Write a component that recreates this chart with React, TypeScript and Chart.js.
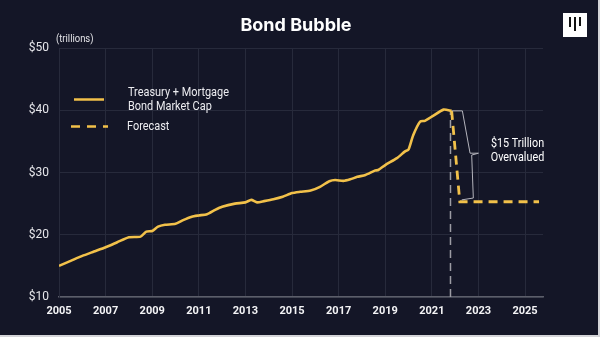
import React, { useEffect, useRef } from "react";
import { Chart, registerables } from "chart.js";

Chart.register(...registerables);

// ---- data ----
const histYears = [
  2005.0, 2005.5, 2006.0, 2006.5, 2007.0, 2007.5, 2008.0, 2008.5, 2008.75, 2009.0,
  2009.25, 2009.55, 2010.0, 2010.3, 2010.7, 2011.0, 2011.35, 2011.7, 2012.0, 2012.55,
  2013.0, 2013.25, 2013.5, 2013.8, 2014.2, 2014.6, 2015.0, 2015.35, 2015.8, 2016.2,
  2016.6, 2016.85, 2017.2, 2017.5, 2017.8, 2018.15, 2018.55, 2018.7, 2019.0, 2019.5,
  2019.85, 2020.0, 2020.2, 2020.5, 2020.7, 2021.05, 2021.5, 2021.85,
];
const histValues = [
  15.0, 15.8, 16.6, 17.3, 18.0, 18.8, 19.6, 19.7, 20.5, 20.6,
  21.3, 21.6, 21.75, 22.3, 22.9, 23.1, 23.3, 24.0, 24.5, 25.0,
  25.2, 25.6, 25.2, 25.4, 25.7, 26.1, 26.7, 26.9, 27.1, 27.7,
  28.6, 28.8, 28.65, 28.9, 29.3, 29.6, 30.3, 30.4, 31.2, 32.3,
  33.4, 33.7, 36.0, 38.2, 38.3, 39.1, 40.1, 39.9,
];
const forecastYears = [2021.85, 2022.2, 2025.6];
const forecastValues = [39.9, 25.3, 25.3];
const markerYears = [2021.8, 2021.8];
const markerValues = [10, 40];
const braceYears = [2021.87, 2022.31, 2022.64, 2023.0, 2022.71, 2022.78, 2022.28];
const braceValues = [39.9, 39.9, 33.1, 33.1, 32.8, 25.9, 25.6];
const xTickYears = [2005, 2007, 2009, 2011, 2013, 2015, 2017, 2019, 2021, 2023, 2025];
const yTickValues = [10, 20, 30, 40, 50];
const xMin = 2005;
const xMax = 2025.77;
const titleText = "Bond Bubble";
const unitText = "(trillions)";
const seriesLabel = ["Treasury + Mortgage", "Bond Market Cap"];
const forecastLabel = "Forecast";
const annotationText = ["$15 Trillion", "Overvalued"];

const YELLOW = "#F2C14A";
const BG = "#141627";
const GRID = "#272a3b";

const toPts = (xs: number[], ys: number[]) => xs.map((x, i) => ({ x, y: ys[i] }));

function narrowText(
  ctx: CanvasRenderingContext2D,
  text: string,
  x: number,
  y: number,
  font: string,
  sx: number,
  align: CanvasTextAlign
) {
  ctx.save();
  ctx.font = font;
  ctx.textAlign = align;
  ctx.textBaseline = "middle";
  ctx.translate(x, y);
  ctx.scale(sx, 1);
  ctx.fillText(text, 0, 0);
  ctx.restore();
}

const overlayPlugin = {
  id: "overlay",
  afterDraw(chart: any) {
    const ctx = chart.ctx as CanvasRenderingContext2D;
    const xS = chart.scales.x;
    const yS = chart.scales.y;
    ctx.save();
    // title
    ctx.fillStyle = "#ffffff";
    ctx.font = "700 18px Inter, sans-serif";
    ctx.textAlign = "center";
    ctx.textBaseline = "middle";
    ctx.fillText(titleText, 296, 26);
    // unit
    ctx.fillStyle = "#e2e2e6";
    narrowText(ctx, unitText, 56, 39.5, "11px Roboto", 0.86, "left");
    // legend
    ctx.strokeStyle = YELLOW;
    ctx.lineWidth = 2.5;
    ctx.beginPath();
    ctx.moveTo(74, 99.5);
    ctx.lineTo(104, 99.5);
    ctx.stroke();
    ctx.setLineDash([9, 7]);
    ctx.beginPath();
    ctx.moveTo(71, 126.5);
    ctx.lineTo(108, 126.5);
    ctx.stroke();
    ctx.setLineDash([]);
    ctx.fillStyle = "#ececf0";
    narrowText(ctx, seriesLabel[0], 128, 92.7, "13px Roboto", 0.84, "left");
    narrowText(ctx, seriesLabel[1], 128, 106.5, "13px Roboto", 0.84, "left");
    narrowText(ctx, forecastLabel, 127, 126.5, "13px Roboto", 0.84, "left");
    // brace
    ctx.strokeStyle = "#b4b4bc";
    ctx.lineWidth = 1;
    ctx.beginPath();
    braceYears.forEach((yr, i) => {
      const px = xS.getPixelForValue(yr);
      const py = yS.getPixelForValue(braceValues[i]);
      if (i === 0) ctx.moveTo(px, py);
      else ctx.lineTo(px, py);
    });
    ctx.stroke();
    // annotation
    ctx.fillStyle = "#ffffff";
    narrowText(ctx, annotationText[0], 517.5, 143.5, "13px Roboto", 0.83, "center");
    narrowText(ctx, annotationText[1], 517.5, 157.5, "13px Roboto", 0.83, "center");
    ctx.restore();
  },
};

export default function App() {
  const ref = useRef<HTMLCanvasElement | null>(null);
  useEffect(() => {
    if (!ref.current) return;
    const chart = new Chart(ref.current, {
      type: "line",
      data: {
        datasets: [
          {
            label: "Treasury + Mortgage Bond Market Cap",
            data: toPts(histYears, histValues),
            borderColor: YELLOW,
            borderWidth: 2.6,
            pointRadius: 0,
            tension: 0.2,
            order: 1,
          },
          {
            label: "Forecast",
            data: toPts(forecastYears, forecastValues),
            borderColor: YELLOW,
            borderWidth: 2.8,
            borderDash: [9, 6],
            pointRadius: 0,
            tension: 0,
            order: 2,
          },
          {
            label: "marker",
            data: toPts(markerYears, markerValues),
            borderColor: "#9c9ca4",
            borderWidth: 1.5,
            borderDash: [8, 5],
            pointRadius: 0,
            order: 3,
          },
        ],
      },
      options: {
        responsive: false,
        animation: false,
        layout: { padding: { top: 48, right: 55, left: 0, bottom: 0 } },
        plugins: { legend: { display: false }, tooltip: { enabled: false }, title: { display: false } },
        scales: {
          x: {
            type: "linear",
            min: xMin,
            max: xMax,
            afterBuildTicks: (s: any) => {
              s.ticks = xTickYears.map((v) => ({ value: v }));
            },
            afterFit: (s: any) => {
              s.height = 38;
            },
            grid: { color: GRID, drawTicks: false, lineWidth: 1 },
            border: { color: "#5c5e6a", width: 1.5 },
            ticks: {
              color: "#f4f4f6",
              font: { family: "Roboto", size: 11, weight: "bold" },
              padding: 8,
              maxRotation: 0,
              autoSkip: false,
              callback: (v: any) => String(v),
            },
          },
          y: {
            min: 10,
            max: 50,
            afterBuildTicks: (s: any) => {
              s.ticks = yTickValues.map((v) => ({ value: v }));
            },
            afterFit: (s: any) => {
              s.width = 59;
            },
            grid: { color: GRID, drawTicks: false },
            border: { color: GRID },
            ticks: {
              color: "#e6e6ea",
              font: { family: "Roboto", size: 12 },
              padding: 10,
              callback: (v: any) => "$" + v,
            },
          },
        },
      },
      plugins: [overlayPlugin],
    } as any);
    return () => chart.destroy();
  }, []);

  return (
    <div style={{ position: "fixed", left: 0, top: 0, width: 600, height: 337, background: "#d4d4d8" }}>
      <div style={{ position: "absolute", left: 0, top: 0, width: 598, height: 335, background: BG }}>
        <canvas ref={ref} width={598} height={335} style={{ display: "block" }} />
        <div
          style={{
            position: "absolute",
            left: 563,
            top: 13,
            width: 24,
            height: 24,
            background: "#ffffff",
          }}
        >
          <div style={{ position: "absolute", left: 6, top: 4, width: 2, height: 10, background: "#111" }} />
          <div style={{ position: "absolute", left: 11, top: 4, width: 2, height: 14, background: "#111" }} />
          <div style={{ position: "absolute", left: 16, top: 4, width: 2, height: 9, background: "#111" }} />
        </div>
      </div>
    </div>
  );
}
